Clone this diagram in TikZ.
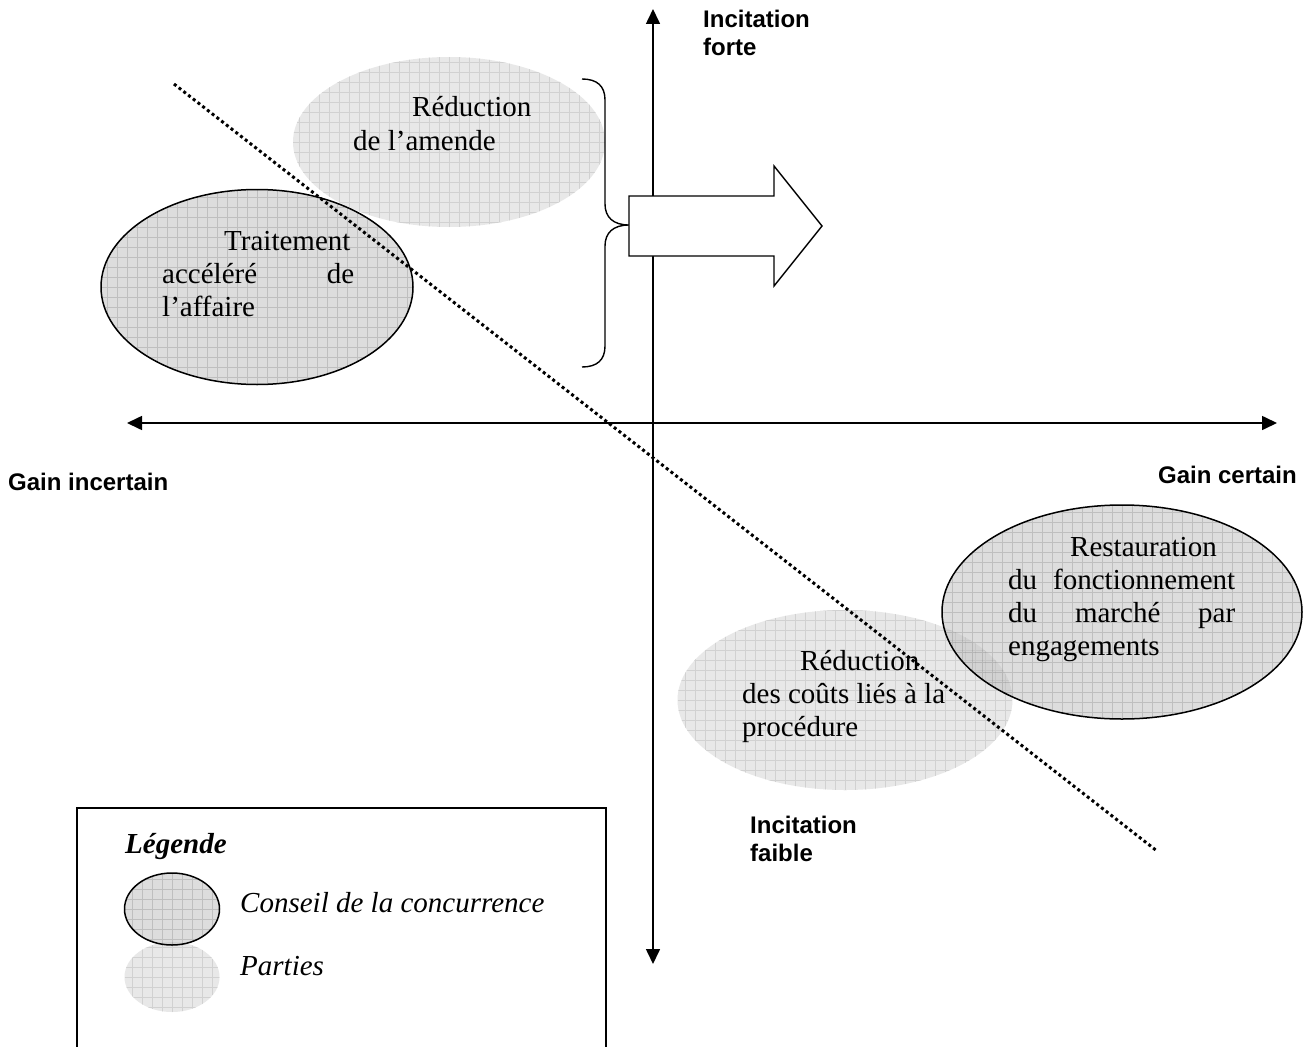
\documentclass[tikz,border=0pt]{standalone}
\usepackage{fontspec}
\setmainfont{Liberation Serif}
\newfontfamily\lsans{Liberation Sans}
\usetikzlibrary{arrows.meta,shapes.geometric}
\begin{document}
\begin{tikzpicture}[x=1pt,y=-1pt,
  ser/.style={font=\fontsize{29}{33}\selectfont, inner sep=0pt, anchor=base west},
  lab/.style={font=\lsans\bfseries\fontsize{24}{27.6}\selectfont, inner sep=0pt, anchor=base west},
  axisline/.style={line width=1.6pt, {Triangle[length=15pt,width=14pt]}-{Triangle[length=15pt,width=14pt]}},
  partiesell/.style={ellipse, inner sep=0pt, fill=black!9,
    path picture={\draw[line width=0.7pt, black!18] (path picture bounding box.south west) grid[step=10pt] (path picture bounding box.north east);}},
  conseilell/.style={ellipse, inner sep=0pt, draw=black, line width=1.5pt, fill=black!26, fill opacity=0.5,
    path picture={\draw[line width=0.7pt, black!60, draw opacity=0.25] (path picture bounding box.south west) grid[step=10pt] (path picture bounding box.north east);}},
  dotline/.style={line width=3pt, dash pattern=on 3pt off 3pt},
  legendbox/.style={line width=1.3pt},
]
\useasboundingbox (0,0) rectangle (1308,1046);
\clip (0,0) rectangle (1308,1046);
\fill[white] (0,0) rectangle (1308,1046);

% axes
\coordinate (vtop) at (653,9);
\coordinate (vbot) at (653,964);
\coordinate (hleft) at (127,423);
\coordinate (hright) at (1277,423);
\draw[axisline] (vbot) -- (vtop);
\draw[axisline] (hleft) -- (hright);

% axis labels
\node[lab] (incforte1) at (703,28) {Incitation};
\node[lab] (incforte2) at (703,56) {forte};
\node[lab] (gaininc) at (8,490) {Gain incertain};
\node[lab, anchor=base east] (gaincert) at (1297,483) {Gain certain};
\node[lab] (incfaible1) at (750,833) {Incitation};
\node[lab] (incfaible2) at (750,861) {faible};

% ellipses
\node[partiesell, minimum width=312pt, minimum height=170pt] (amende) at (449,142) {};
\node[conseilell, minimum width=312pt, minimum height=195pt] (traitement) at (257,287) {};
\node[partiesell, minimum width=335pt, minimum height=180pt] (couts) at (845,700) {};
\node[conseilell, minimum width=360pt, minimum height=214pt] (restauration) at (1122,612) {};

% texts in ellipses
\node[ser] (amA) at (412,117) {Réduction};
\node[ser] (amB) at (353,150) {de l’amende};
\node[ser] (trA) at (224,250) {Traitement};
\node[ser] (trB) at (162,283) {\makebox[192pt][s]{accéléré de}};
\node[ser] (trC) at (162,316) {l’affaire};
\node[ser] (coA) at (800,670) {Réduction};
\node[ser] (coB) at (742,703) {des coûts liés à la};
\node[ser] (coC) at (742,736) {procédure};
\node[ser] (reA) at (1070,556) {Restauration};
\node[ser] (reB) at (1008,589) {\makebox[227pt][s]{du fonctionnement}};
\node[ser] (reC) at (1008,622) {\makebox[227pt][s]{du marché par}};
\node[ser] (reD) at (1008,655) {engagements};

% brace and block arrow
\draw[line width=1.4pt] (582,79) .. controls (597,79) and (605,86) .. (605,100) -- (605,204)
  .. controls (605,217) and (613,225) .. (629,225)
  .. controls (613,225) and (605,233) .. (605,246) -- (605,346)
  .. controls (605,360) and (597,367) .. (582,367);
\draw[line width=1.4pt, fill=white] (629,196) -- (774,196) -- (774,166) -- (822,226) -- (774,286) -- (774,256) -- (629,256) -- cycle;

% dotted diagonal
\coordinate (dstart) at (174,84);
\coordinate (dend) at (1157,851);
\draw[dotline] (dstart) -- (dend);

% legend
\draw[legendbox] (77,1060) -- (77,808) -- (606,808) -- (606,1060);
\node[ser, font=\fontsize{29}{33}\selectfont\bfseries\itshape] (leg) at (125,853) {Légende};
\node[partiesell, minimum width=95pt, minimum height=70pt] (legparties) at (172,977) {};
\node[conseilell, minimum width=95pt, minimum height=72pt] (legconseil) at (172,909) {};
\node[ser, font=\fontsize{29}{33}\selectfont\itshape] (legC) at (240,912) {Conseil de la concurrence};
\node[ser, font=\fontsize{29}{33}\selectfont\itshape] (legP) at (240,975) {Parties};
\end{tikzpicture}
\end{document}
